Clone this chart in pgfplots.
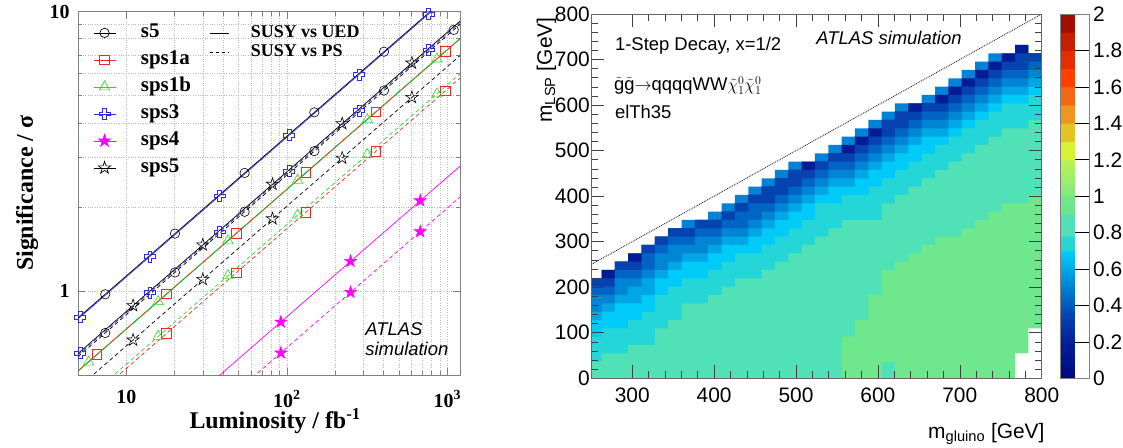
\documentclass[border=0pt]{standalone}
\usepackage{fontspec}
\setmainfont{Liberation Sans}
\newfontfamily\serifb{Liberation Serif}
\usepackage{pgfplots}
\usepackage{pgfplotstable}
\pgfplotsset{compat=1.18}

\definecolor{rred}{RGB}{238,40,40}
\definecolor{rgreen}{RGB}{40,218,40}
\definecolor{rblue}{RGB}{40,40,238}
\definecolor{rmag}{RGB}{255,0,255}

\definecolor{cE}{RGB}{0,130,214}
\definecolor{cD}{RGB}{0,28,148}
\definecolor{cL2}{RGB}{6,66,176}
\definecolor{cL3}{RGB}{0,100,196}
\definecolor{cL4}{RGB}{0,132,212}
\definecolor{cL5}{RGB}{0,166,230}
\definecolor{cL6}{RGB}{0,202,248}
\definecolor{cL7}{RGB}{36,214,216}
\definecolor{cL8}{RGB}{80,225,182}
\definecolor{cL9}{RGB}{111,231,140}

\pgfplotsset{colormap={atlas}{
 rgb255(0cm)=(0,8,128)
 rgb255(2cm)=(0,32,152)
 rgb255(3.5cm)=(4,70,180)
 rgb255(5cm)=(0,128,212)
 rgb255(6cm)=(0,168,232)
 rgb255(6.98cm)=(0,206,252)
 rgb255(7.02cm)=(38,214,212)
 rgb255(7.78cm)=(38,214,212)
 rgb255(7.82cm)=(80,225,182)
 rgb255(8.98cm)=(80,225,182)
 rgb255(9.02cm)=(108,230,140)
 rgb255(9.98cm)=(112,231,137)
 rgb255(10.02cm)=(128,234,128)
 rgb255(11.98cm)=(190,243,80)
 rgb255(12.02cm)=(214,243,52)
 rgb255(12.98cm)=(214,243,52)
 rgb255(13.02cm)=(228,196,36)
 rgb255(13.98cm)=(228,196,36)
 rgb255(14.02cm)=(236,152,30)
 rgb255(14.98cm)=(236,152,30)
 rgb255(15.02cm)=(244,104,20)
 rgb255(15.98cm)=(244,104,20)
 rgb255(16.02cm)=(255,62,0)
 rgb255(16.98cm)=(255,62,0)
 rgb255(17.02cm)=(226,46,0)
 rgb255(17.98cm)=(226,46,0)
 rgb255(18.02cm)=(200,30,0)
 rgb255(18.98cm)=(200,30,0)
 rgb255(19.02cm)=(160,14,0)
 rgb255(20cm)=(160,14,0)
}}

\pgfdeclareplotmark{ocross}{%
  \pgfpathmoveto{\pgfqpoint{-0.35\pgfplotmarksize}{\pgfplotmarksize}}%
  \pgfpathlineto{\pgfqpoint{0.35\pgfplotmarksize}{\pgfplotmarksize}}%
  \pgfpathlineto{\pgfqpoint{0.35\pgfplotmarksize}{0.35\pgfplotmarksize}}%
  \pgfpathlineto{\pgfqpoint{\pgfplotmarksize}{0.35\pgfplotmarksize}}%
  \pgfpathlineto{\pgfqpoint{\pgfplotmarksize}{-0.35\pgfplotmarksize}}%
  \pgfpathlineto{\pgfqpoint{0.35\pgfplotmarksize}{-0.35\pgfplotmarksize}}%
  \pgfpathlineto{\pgfqpoint{0.35\pgfplotmarksize}{-\pgfplotmarksize}}%
  \pgfpathlineto{\pgfqpoint{-0.35\pgfplotmarksize}{-\pgfplotmarksize}}%
  \pgfpathlineto{\pgfqpoint{-0.35\pgfplotmarksize}{-0.35\pgfplotmarksize}}%
  \pgfpathlineto{\pgfqpoint{-\pgfplotmarksize}{-0.35\pgfplotmarksize}}%
  \pgfpathlineto{\pgfqpoint{-\pgfplotmarksize}{0.35\pgfplotmarksize}}%
  \pgfpathlineto{\pgfqpoint{-0.35\pgfplotmarksize}{0.35\pgfplotmarksize}}%
  \pgfpathclose
  \pgfusepathqstroke
}
\def\starpath{%
  \pgfpathmoveto{\pgfqpoint{0pt}{\pgfplotmarksize}}%
  \pgfpathlineto{\pgfqpoint{-0.2245\pgfplotmarksize}{0.3090\pgfplotmarksize}}%
  \pgfpathlineto{\pgfqpoint{-0.9511\pgfplotmarksize}{0.3090\pgfplotmarksize}}%
  \pgfpathlineto{\pgfqpoint{-0.3633\pgfplotmarksize}{-0.1180\pgfplotmarksize}}%
  \pgfpathlineto{\pgfqpoint{-0.5878\pgfplotmarksize}{-0.8090\pgfplotmarksize}}%
  \pgfpathlineto{\pgfqpoint{0pt}{-0.382\pgfplotmarksize}}%
  \pgfpathlineto{\pgfqpoint{0.5878\pgfplotmarksize}{-0.8090\pgfplotmarksize}}%
  \pgfpathlineto{\pgfqpoint{0.3633\pgfplotmarksize}{-0.1180\pgfplotmarksize}}%
  \pgfpathlineto{\pgfqpoint{0.9511\pgfplotmarksize}{0.3090\pgfplotmarksize}}%
  \pgfpathlineto{\pgfqpoint{0.2245\pgfplotmarksize}{0.3090\pgfplotmarksize}}%
  \pgfpathclose}
\pgfdeclareplotmark{ostar}{\starpath\pgfusepathqstroke}
\pgfdeclareplotmark{fstar}{\starpath\pgfusepathqfillstroke}

% heat map: top edge (GeV) of each colour layer for each gluino-mass column
\pgfplotstableread{
x E D L2 L3 L4 L5 L6 L7 L8 L9
250 0 0 0 0 0 0 0 0 0 0
250 219.6 219.6 219.6 201.3 183 146.4 128.1 91.5 36.6 0
262.50 237.9 237.9 219.6 201.3 183 164.7 146.4 109.8 54.9 0
278.79 256.2 256.2 256.2 237.9 219.6 183 164.7 109.8 54.9 0
295.08 274.5 274.5 256.2 237.9 219.6 201.3 164.7 128.1 73.2 0
311.36 292.8 292.8 292.8 274.5 237.9 219.6 183 146.4 73.2 0
327.65 311.1 311.1 311.1 292.8 274.5 237.9 219.6 183 109.8 0
343.94 329.4 329.4 329.4 311.1 292.8 256.2 237.9 201.3 128.1 0
360.23 347.7 329.4 329.4 311.1 292.8 274.5 256.2 219.6 164.7 0
376.52 347.7 347.7 347.7 329.4 311.1 274.5 256.2 219.6 164.7 0
392.80 366 347.7 347.7 329.4 311.1 292.8 274.5 237.9 183 0
409.09 384.3 366 366 347.7 329.4 311.1 292.8 256.2 201.3 0
425.38 402.6 384.3 384.3 366 329.4 311.1 292.8 274.5 219.6 0
441.67 420.9 402.6 402.6 384.3 347.7 329.4 311.1 274.5 219.6 0
457.96 439.2 420.9 420.9 384.3 366 347.7 329.4 292.8 237.9 0
474.24 457.5 439.2 439.2 402.6 384.3 366 347.7 311.1 256.2 0
490.53 475.8 457.5 457.5 420.9 402.6 384.3 366 329.4 274.5 0
506.82 475.8 475.8 457.5 439.2 420.9 402.6 384.3 347.7 292.8 0
523.11 494.1 475.8 475.8 457.5 439.2 420.9 402.6 384.3 311.1 0
539.40 512.4 494.1 494.1 475.8 457.5 439.2 420.9 384.3 329.4 0
555.68 530.7 512.4 494.1 475.8 457.5 439.2 420.9 402.6 347.7 91.5
571.97 549 530.7 512.4 494.1 475.8 457.5 439.2 402.6 347.7 128.1
588.26 567.3 549 530.7 512.4 494.1 475.8 457.5 420.9 347.7 183
604.55 585.6 567.3 567.3 530.7 512.4 494.1 475.8 439.2 384.3 237.9
620.84 603.9 585.6 585.6 549 530.7 512.4 494.1 457.5 402.6 256.2
637.12 603.9 603.9 585.6 567.3 549 530.7 512.4 475.8 420.9 274.5
653.41 622.2 603.9 603.9 585.6 567.3 549 530.7 494.1 439.2 292.8
669.70 640.5 622.2 603.9 585.6 567.3 549 530.7 512.4 457.5 311.1
685.99 658.8 640.5 622.2 603.9 585.6 567.3 549 530.7 475.8 311.1
702.28 677.1 658.8 640.5 622.2 603.9 585.6 567.3 549 494.1 329.4
718.56 695.4 677.1 658.8 640.5 622.2 603.9 585.6 567.3 512.4 347.7
734.85 713.7 695.4 677.1 658.8 640.5 622.2 603.9 585.6 530.7 366
751.14 713.7 713.7 695.4 677.1 658.8 640.5 622.2 603.9 549 384.3
767.43 732 732 713.7 677.1 658.8 640.5 622.2 603.9 549 384.3
783.72 713.7 713.7 713.7 695.4 677.1 658.8 640.5 622.2 567.3 402.6
800 713.7 713.7 713.7 695.4 677.1 658.8 640.5 622.2 567.3 402.6
800 0 0 0 0 0 0 0 0 0 0
}\heat

\begin{document}
\begin{tikzpicture}
\useasboundingbox (0,0) rectangle (1123bp,448bp);

%================ LEFT PANEL =================
\begin{axis}[
  at={(78bp,73bp)}, anchor=south west, scale only axis,
  width=382bp, height=363.3bp,
  xmode=log, ymode=log,
  xmin=5, xmax=1200, ymin=0.5, ymax=10,
  xtick={10,100,1000},
  xticklabels={10,10\textsuperscript{2},10\textsuperscript{3}},
  ytick={1,10}, yticklabels={1,10},
  grid=both,
  major grid style={gray!55, dotted, line width=0.6bp},
  minor grid style={gray!55, dotted, line width=0.6bp},
  axis line style={gray, line width=0.8bp},
  tick align=inside,
  every tick/.style={gray, line width=0.6bp},
  major tick length=7bp, minor tick length=4bp,
  ticklabel style={font=\serifb\bfseries\fontsize{20}{20}\selectfont},
  xticklabel style={yshift=-12bp},
  yticklabel style={xshift=-5bp},
  xlabel={Luminosity / fb\textsuperscript{-1}},
  ylabel={Significance / σ},
  label style={font=\serifb\bfseries\fontsize{24}{24}\selectfont},
  xlabel style={at={(axis description cs:0.516,-0.146)}, anchor=base},
  ylabel style={at={(axis description cs:-0.118,0.5)}, anchor=base},
  legend image code/.code={\draw[mark repeat=2,mark phase=2,#1] plot coordinates {(0bp,0bp) (11bp,0bp) (22bp,0bp)};},
  legend style={at={(axis description cs:0,1)}, anchor=north west, xshift=15bp, yshift=-11bp,
     draw=none, fill=none, inner sep=0pt,
     font=\serifb\bfseries\fontsize{21}{21}\selectfont,
     row sep=7bp, column sep=24bp,
     nodes={inner sep=1bp, text height=14bp, text depth=4bp}},
  legend cell align=left,
]
\addlegendimage{black, line width=0.7bp, mark=o, mark size=4.7bp}
\addlegendentry{s5}
\addlegendimage{rred, line width=0.7bp, mark=square, mark size=4.8bp}
\addlegendentry{sps1a}
\addlegendimage{rgreen, line width=0.7bp, mark=triangle, mark size=6bp}
\addlegendentry{sps1b}
\addlegendimage{rblue, line width=0.7bp, mark=ocross, mark size=5.5bp}
\addlegendentry{sps3}
\addlegendimage{rmag, line width=0.7bp, mark=fstar, mark size=6.5bp, mark options={fill=rmag}}
\addlegendentry{sps4}
\addlegendimage{black, line width=0.7bp, mark=ostar, mark size=6.5bp}
\addlegendentry{sps5}

% lines (solid: SUSY vs UED, dashed: SUSY vs PS)
\addplot[black, line width=0.7bp, forget plot] coordinates {(5,0.8005) (1200,12.40)};
\addplot[rblue, line width=0.7bp, forget plot] coordinates {(5,0.7938) (1200,12.298)};
\addplot[black, line width=0.7bp, dash pattern=on 4bp off 3bp, forget plot] coordinates {(5,0.5814) (1200,9.007)};
\addplot[rblue, line width=0.7bp, dash pattern=on 4bp off 3bp, forget plot] coordinates {(5,0.5903) (1200,9.145)};
\addplot[black, line width=0.7bp, forget plot] coordinates {(5,0.5970) (1200,9.249)};
\addplot[rred, line width=0.7bp, forget plot] coordinates {(5,0.5176) (1200,8.019)};
\addplot[rgreen!85!black, line width=0.7bp, forget plot] coordinates {(5,0.5154) (1200,7.985)};
\addplot[black, line width=0.7bp, dash pattern=on 4bp off 3bp, forget plot] coordinates {(5,0.4494) (1200,6.963)};
\addplot[rgreen, line width=0.7bp, dash pattern=on 4bp off 3bp, forget plot] coordinates {(5,0.3868) (1200,5.993)};
\addplot[rred, line width=0.7bp, dash pattern=on 4bp off 3bp, forget plot] coordinates {(5,0.3734) (1200,5.785)};
\addplot[rmag, line width=0.7bp, forget plot] coordinates {(5,0.1807) (1200,2.799)};
\addplot[rmag, line width=0.7bp, dash pattern=on 4bp off 3bp, forget plot] coordinates {(5,0.1400) (1200,2.169)};

% markers
\addplot[only marks, black, mark=o, mark size=4.7bp, line width=0.6bp, forget plot] coordinates {
 (7.39,0.973) (20.09,1.605) (54.6,2.645) (148.4,4.361) (403.4,7.19)};
\addplot[only marks, black, mark=o, mark size=4.7bp, line width=0.6bp, forget plot] coordinates {
 (7.39,0.707) (20.09,1.165) (54.6,1.921) (148.4,3.167) (403.4,5.222) (1096.6,8.61)};
\addplot[only marks, rblue, mark=ocross, mark size=5.5bp, line width=0.6bp, forget plot] coordinates {
 (5.155,0.806) (14.01,1.329) (38.09,2.191) (103.5,3.611) (281.4,5.954) (765.0,9.819)};
\addplot[only marks, rblue, mark=ocross, mark size=5.5bp, line width=0.6bp, forget plot] coordinates {
 (5.155,0.599) (14.01,0.988) (38.09,1.629) (103.5,2.686) (281.4,4.428) (765.0,7.302)};
\addplot[only marks, black, mark=ostar, mark size=6.5bp, line width=0.6bp, forget plot] coordinates {
 (11.02,0.886) (29.96,1.462) (81.45,2.410) (221.4,3.973) (601.8,6.550)};
\addplot[only marks, black, mark=ostar, mark size=6.5bp, line width=0.6bp, forget plot] coordinates {
 (11.02,0.667) (29.96,1.100) (81.45,1.814) (221.4,2.991) (601.8,4.931)};
\addplot[only marks, rred, mark=square, mark size=4.8bp, line width=0.6bp, forget plot] coordinates {
 (6.554,0.593) (17.81,0.977) (48.42,1.611) (131.6,2.655) (357.8,4.380) (972.6,7.220)};
\addplot[only marks, rred, mark=square, mark size=4.8bp, line width=0.6bp, forget plot] coordinates {
 (17.81,0.705) (48.42,1.162) (131.6,1.916) (357.8,3.160) (972.6,5.209)};
\addplot[only marks, rgreen, mark=triangle, mark size=6bp, line width=0.6bp, forget plot] coordinates {
 (5.812,0.556) (15.80,0.916) (42.95,1.511) (116.7,2.490) (317.3,4.106) (862.6,6.770)};
\addplot[only marks, rgreen, mark=triangle, mark size=6bp, line width=0.6bp, forget plot] coordinates {
 (15.80,0.688) (42.95,1.134) (116.7,1.869) (317.3,3.081) (862.6,5.081)};
\addplot[only marks, rmag, mark=fstar, mark size=6.5bp, line width=0.5bp, mark options={fill=rmag}, forget plot] coordinates {
 (91.84,0.774) (249.6,1.277) (678.6,2.105)};
\addplot[only marks, rmag, mark=fstar, mark size=6.5bp, line width=0.5bp, mark options={fill=rmag}, forget plot] coordinates {
 (91.84,0.600) (249.6,0.989) (678.6,1.631)};

\node[anchor=base west, font=\fontsize{18.5}{18.5}\selectfont\itshape] at (axis description cs:0.743,0.110) {ATLAS};
\node[anchor=base west, font=\fontsize{18.5}{18.5}\selectfont\itshape] at (axis description cs:0.743,0.055) {simulation};
\end{axis}

% second legend (line styles)
\begin{axis}[
  at={(78bp,73bp)}, anchor=south west, scale only axis,
  width=382bp, height=363.3bp, hide axis,
  xmin=0, xmax=1, ymin=0, ymax=1,
  legend image code/.code={\draw[#1] (0bp,0bp) -- (19bp,0bp);},
  legend style={at={(axis description cs:0,1)}, anchor=north west, xshift=131bp, yshift=-12bp,
     draw=none, fill=none, inner sep=0pt,
     font=\serifb\bfseries\fontsize{18}{18}\selectfont,
     row sep=0bp, column sep=21bp,
     nodes={inner sep=1bp, text height=13bp, text depth=4bp}},
  legend cell align=left,
]
\addlegendimage{black, line width=0.7bp}
\addlegendentry{SUSY vs UED}
\addlegendimage{black, line width=0.7bp, dash pattern=on 3bp off 3bp}
\addlegendentry{SUSY vs PS}
\end{axis}

%================ RIGHT PANEL =================
\begin{axis}[
  at={(591.3bp,69.7bp)}, anchor=south west, scale only axis,
  width=450.4bp, height=364.3bp,
  xmin=250, xmax=800, ymin=0, ymax=800,
  xtick={300,400,500,600,700,800},
  ytick={0,100,200,300,400,500,600,700,800},
  minor x tick num=4, minor y tick num=4,
  axis on top,
  tick align=inside,
  major tick length=13bp, minor tick length=7bp,
  every tick/.style={black!75, line width=0.6bp},
  axis line style={gray!80!black, line width=0.8bp},
  ticklabel style={font=\fontsize{21}{21}\selectfont},
  /pgf/number format/assume math mode=true,
  xticklabel style={yshift=-6bp},
  yticklabel style={xshift=2bp},
  xlabel={m\textsubscript{gluino} [GeV]},
  ylabel={m\textsubscript{LSP} [GeV]},
  label style={font=\fontsize{21}{21}\selectfont},
  xlabel style={at={(axis description cs:1.014,-0.165)}, anchor=base east},
  ylabel style={at={(axis description cs:-0.0873,1)}, anchor=base east},
  colormap name=atlas,
  point meta min=0, point meta max=2,
  colorbar,
  colorbar style={
    at={(parent axis.north east)}, anchor=north west, xshift=10.4bp,
    width=29bp, scale only axis,
    ytick={0,0.2,0.4,0.6,0.8,1,1.2,1.4,1.6,1.8,2},
    yticklabel style={font=\fontsize{21}{21}\selectfont, /pgf/number format/assume math mode=true},
    tick align=inside, major tick length=15bp,
    every tick/.style={black, line width=0.7bp},
    axis line style={gray, line width=0.8bp},
    ytick pos=right, yticklabel pos=right,
    axis on top,
  },
]
\addplot[const plot, fill=cE, draw=none] table[x=x, y=E] {\heat};
\addplot[const plot, fill=cD, draw=none] table[x=x, y=D] {\heat};
\addplot[const plot, fill=cL2, draw=none] table[x=x, y=L2] {\heat};
\addplot[const plot, fill=cL3, draw=none] table[x=x, y=L3] {\heat};
\addplot[const plot, fill=cL4, draw=none] table[x=x, y=L4] {\heat};
\addplot[const plot, fill=cL5, draw=none] table[x=x, y=L5] {\heat};
\addplot[const plot, fill=cL6, draw=none] table[x=x, y=L6] {\heat};
\addplot[const plot, fill=cL7, draw=none] table[x=x, y=L7] {\heat};
\addplot[const plot, fill=cL8, draw=none] table[x=x, y=L8] {\heat};
\addplot[const plot, fill=cL9, draw=none] table[x=x, y=L9] {\heat};
\addplot[fill=cL8, draw=none] coordinates {(604.55,0) (604.55,36.6) (620.84,36.6) (620.84,0)};
\addplot[fill=white, draw=none] coordinates {(767.43,0) (767.43,54.9) (783.72,54.9) (783.72,109.8) (800,109.8) (800,0)};
\addplot[black!85, densely dotted, line width=0.9bp] coordinates {(250,250) (800,800)};

\node[anchor=base west, font=\fontsize{18.5}{18.5}\selectfont] at (axis description cs:0.045,0.901) {1-Step Decay, x=1/2};
\node[anchor=base west, font=\fontsize{18.5}{18.5}\selectfont\itshape] at (axis description cs:0.492,0.915) {ATLAS simulation};
\node[anchor=base west, font=\fontsize{18.5}{18.5}\selectfont, inner sep=0pt] at (axis description cs:0.050,0.790) {$\tilde{\mbox{g}}\tilde{\mbox{g}}{\rightarrow}$qqqqWW$\tilde{\chi}^{0}_{1}\tilde{\chi}^{0}_{1}$};
\node[anchor=base west, font=\fontsize{18.5}{18.5}\selectfont] at (axis description cs:0.045,0.714) {elTh35};
\end{axis}
\end{tikzpicture}
\end{document}
